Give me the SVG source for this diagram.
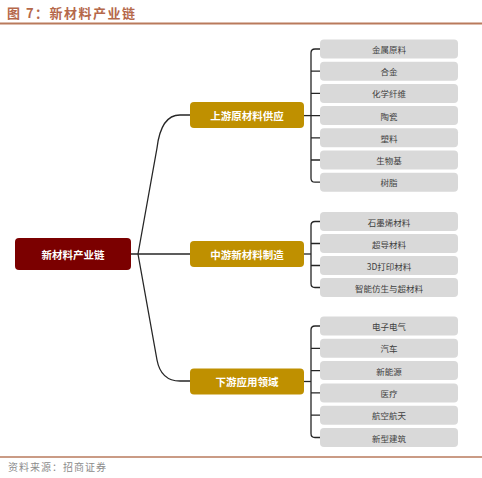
<svg xmlns="http://www.w3.org/2000/svg" width="482" height="478" viewBox="0 0 482 478">
<style>
.t{font-family:"Noto Sans CJK SC","Noto Sans",sans-serif}
.title{font-size:13px;font-weight:bold;fill:#b5684a;letter-spacing:1.5px}
.foot{font-size:10px;fill:#8c8c8c;letter-spacing:1px}
.root rect{fill:#7b0000}
.mid rect{fill:#bf9000}
.root text,.mid text{font-size:10.5px;font-weight:bold;fill:#fff;text-anchor:middle;dominant-baseline:central}
.leaf rect{fill:#d9d9d9}
.leaf text{font-size:8.5px;fill:#404040;text-anchor:middle;dominant-baseline:central}
.c path{fill:none;stroke:#262626;stroke-width:1.3}
</style>
<rect width="482" height="478" fill="#fff"/>
<text class="t title" x="7" y="18">图 7：新材料产业链</text>
<line x1="0" y1="23.5" x2="482" y2="23.5" stroke="#b97a5c" stroke-width="2"/>
<line x1="0" y1="457" x2="482" y2="457" stroke="#b97a5c" stroke-width="1.5"/>
<text class="t foot" x="8" y="471">资料来源：招商证券</text>

<g class="c" id="connectors">
<path d="M131,254 L190,254"/>
<path d="M138,254 L157,148 Q161,115 180,115 L190,115"/>
<path d="M138,254 L157,360 Q161,381 180,381 L190,381"/>
<path d="M304,115.6 L311,115.6"/>
<path d="M320,49 L315,49 Q311,49 311,53 L311,178.2 Q311,182.2 315,182.2 L320,182.2 M311,71.2 L320,71.2 M311,93.4 L320,93.4 M311,115.6 L320,115.6 M311,137.8 L320,137.8 M311,160 L320,160"/>
<path d="M304,254 L311,254"/>
<path d="M320,221.5 L315,221.5 Q311,221.5 311,225.5 L311,283.5 Q311,287.5 315,287.5 L320,287.5 M311,243.5 L320,243.5 M311,265.5 L320,265.5"/>
<path d="M304,381.5 L311,381.5"/>
<path d="M320,326 L315,326 Q311,326 311,330 L311,433.5 Q311,437.5 315,437.5 L320,437.5 M311,348.3 L320,348.3 M311,370.6 L320,370.6 M311,392.9 L320,392.9 M311,415.2 L320,415.2"/>
</g>

<g id="root" class="root t"><rect x="15" y="238" width="116" height="32" rx="4"/><text x="73" y="254">新材料产业链</text></g>
<g id="up" class="mid t"><rect x="190" y="102" width="114" height="26" rx="4"/><text x="247" y="115">上游原材料供应</text></g>
<g id="midstream" class="mid t"><rect x="190" y="241" width="114" height="26" rx="4"/><text x="247" y="254">中游新材料制造</text></g>
<g id="down" class="mid t"><rect x="190" y="368.5" width="114" height="26" rx="4"/><text x="247" y="381.5">下游应用领域</text></g>

<g id="l1" class="leaf t"><rect x="320" y="39.5" width="138" height="19" rx="4"/><text x="389" y="49">金属原料</text></g>
<g id="l2" class="leaf t"><rect x="320" y="61.7" width="138" height="19" rx="4"/><text x="389" y="71.2">合金</text></g>
<g id="l3" class="leaf t"><rect x="320" y="83.9" width="138" height="19" rx="4"/><text x="389" y="93.4">化学纤维</text></g>
<g id="l4" class="leaf t"><rect x="320" y="106.1" width="138" height="19" rx="4"/><text x="389" y="115.6">陶瓷</text></g>
<g id="l5" class="leaf t"><rect x="320" y="128.3" width="138" height="19" rx="4"/><text x="389" y="137.8">塑料</text></g>
<g id="l6" class="leaf t"><rect x="320" y="150.5" width="138" height="19" rx="4"/><text x="389" y="160">生物基</text></g>
<g id="l7" class="leaf t"><rect x="320" y="172.7" width="138" height="19" rx="4"/><text x="389" y="182.2">树脂</text></g>

<g id="m1" class="leaf t"><rect x="320" y="212" width="138" height="19" rx="4"/><text x="389" y="221.5">石墨烯材料</text></g>
<g id="m2" class="leaf t"><rect x="320" y="234" width="138" height="19" rx="4"/><text x="389" y="243.5">超导材料</text></g>
<g id="m3" class="leaf t"><rect x="320" y="256" width="138" height="19" rx="4"/><text x="389" y="265.5">3D打印材料</text></g>
<g id="m4" class="leaf t"><rect x="320" y="278" width="138" height="19" rx="4"/><text x="389" y="287.5">智能仿生与超材料</text></g>

<g id="d1" class="leaf t"><rect x="320" y="316.5" width="138" height="19" rx="4"/><text x="389" y="326">电子电气</text></g>
<g id="d2" class="leaf t"><rect x="320" y="338.8" width="138" height="19" rx="4"/><text x="389" y="348.3">汽车</text></g>
<g id="d3" class="leaf t"><rect x="320" y="361.1" width="138" height="19" rx="4"/><text x="389" y="370.6">新能源</text></g>
<g id="d4" class="leaf t"><rect x="320" y="383.4" width="138" height="19" rx="4"/><text x="389" y="392.9">医疗</text></g>
<g id="d5" class="leaf t"><rect x="320" y="405.7" width="138" height="19" rx="4"/><text x="389" y="415.2">航空航天</text></g>
<g id="d6" class="leaf t"><rect x="320" y="428" width="138" height="19" rx="4"/><text x="389" y="437.5">新型建筑</text></g>
</svg>
